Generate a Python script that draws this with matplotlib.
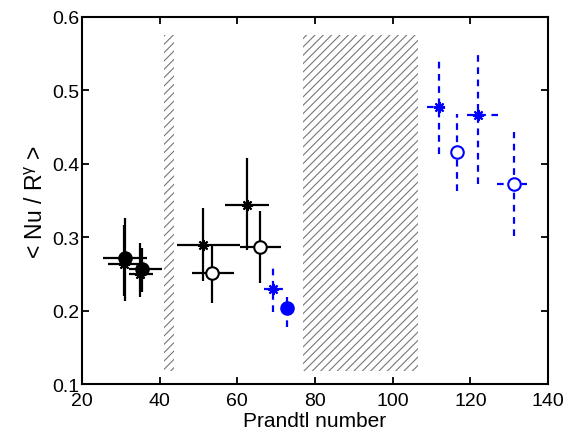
import matplotlib
matplotlib.use('Agg')
import matplotlib.pyplot as plt

plt.rcParams['font.family'] = ['Liberation Sans', 'DejaVu Sans']
plt.rcParams['mathtext.fontset'] = 'custom'
plt.rcParams['mathtext.rm'] = 'Liberation Sans'
plt.rcParams['mathtext.it'] = 'Liberation Sans'
plt.rcParams['hatch.linewidth'] = 0.8

# hatched (excluded) Prandtl ranges
band_x0 = [41.0, 77.0]
band_x1 = [43.7, 106.5]
band_y0 = 0.118
band_y1 = 0.575

# black stars
star_k_x = [30.7, 35.0, 51.2, 62.4]
star_k_y = [0.264, 0.250, 0.290, 0.344]
star_k_xlo = [26.8, 32.2, 44.5, 56.7]
star_k_xhi = [35.0, 38.4, 60.7, 68.2]
star_k_ylo = [0.220, 0.219, 0.241, 0.282]
star_k_yhi = [0.316, 0.292, 0.340, 0.408]

# black filled circles
dot_k_x = [31.1, 35.4]
dot_k_y = [0.272, 0.257]
dot_k_xlo = [25.5, 32.2]
dot_k_xhi = [36.7, 40.5]
dot_k_ylo = [0.213, 0.225]
dot_k_yhi = [0.326, 0.285]

# black open circles
ring_k_x = [53.6, 65.9]
ring_k_y = [0.251, 0.287]
ring_k_xlo = [48.2, 60.7]
ring_k_xhi = [59.1, 71.2]
ring_k_ylo = [0.210, 0.237]
ring_k_yhi = [0.290, 0.336]

# blue stars
star_b_x = [69.3, 112.0, 121.9]
star_b_y = [0.230, 0.477, 0.466]
star_b_xlo = [66.9, 108.9, 119.1]
star_b_xhi = [73.1, 113.5, 127.0]
star_b_ylo = [0.198, 0.413, 0.372]
star_b_yhi = [0.258, 0.540, 0.552]

# blue filled circle
dot_b_x = [72.8]
dot_b_y = [0.204]
dot_b_xlo = [72.0]
dot_b_xhi = [73.6]
dot_b_ylo = [0.177]
dot_b_yhi = [0.219]

# blue open circles
ring_b_x = [116.6, 131.3]
ring_b_y = [0.4165, 0.372]
ring_b_xlo = [115.9, 126.8]
ring_b_xhi = [117.3, 134.7]
ring_b_ylo = [0.363, 0.301]
ring_b_yhi = [0.468, 0.443]


def errs(v, lo, hi):
    return [[a - b for a, b in zip(v, lo)], [c - a for a, c in zip(v, hi)]]


fig = plt.figure(figsize=(5.79, 4.39), dpi=100)
ax = fig.add_axes([0.1416, 0.123, 0.8049, 0.836])

for a, b in zip(band_x0, band_x1):
    ax.fill_between([a, b], band_y0, band_y1, facecolor='none',
                    edgecolor='#777777', linewidth=0, hatch='////')

ast = (8, 2, 0)

def draw(x, y, xlo, xhi, ylo, yhi, color, marker, ms, mfc, ls):
    eb = ax.errorbar(x, y, xerr=errs(x, xlo, xhi), yerr=errs(y, ylo, yhi),
                     fmt='none', ecolor=color, elinewidth=1.6, capsize=0)
    for lc in eb[2]:
        lc.set_linestyle(ls)
    ax.plot(x, y, linestyle='none', marker=marker, ms=ms, mfc=mfc,
            mec=color, mew=1.5)

draw(star_k_x, star_k_y, star_k_xlo, star_k_xhi, star_k_ylo, star_k_yhi,
     'black', ast, 8, 'black', '-')
draw(dot_k_x, dot_k_y, dot_k_xlo, dot_k_xhi, dot_k_ylo, dot_k_yhi,
     'black', 'o', 9, 'black', '-')
draw(ring_k_x, ring_k_y, ring_k_xlo, ring_k_xhi, ring_k_ylo, ring_k_yhi,
     'black', 'o', 9, 'white', '-')
draw(star_b_x, star_b_y, star_b_xlo, star_b_xhi, star_b_ylo, star_b_yhi,
     'blue', ast, 8, 'blue', (0, (3, 2.5)))
draw(dot_b_x, dot_b_y, dot_b_xlo, dot_b_xhi, dot_b_ylo, dot_b_yhi,
     'blue', 'o', 9, 'blue', (0, (3, 2.5)))
draw(ring_b_x, ring_b_y, ring_b_xlo, ring_b_xhi, ring_b_ylo, ring_b_yhi,
     'blue', 'o', 9, 'white', (0, (3, 2.5)))

ax.set_xlim(20, 140)
ax.set_ylim(0.1, 0.6)
ax.set_xticks([20, 40, 60, 80, 100, 120, 140])
ax.set_yticks([0.1, 0.2, 0.3, 0.4, 0.5, 0.6])
ax.tick_params(direction='in', length=5, width=1.3, top=True, right=True,
               labelsize=14, pad=2)
ax.tick_params(axis='x', pad=6)
for s in ax.spines.values():
    s.set_linewidth(1.5)
ax.set_xlabel('Prandtl number', fontsize=15, labelpad=1)
ax.set_ylabel(r'< Nu / R$^{\gamma}$ >', fontsize=16.5, labelpad=3)

fig.savefig('out.png', dpi=100)
